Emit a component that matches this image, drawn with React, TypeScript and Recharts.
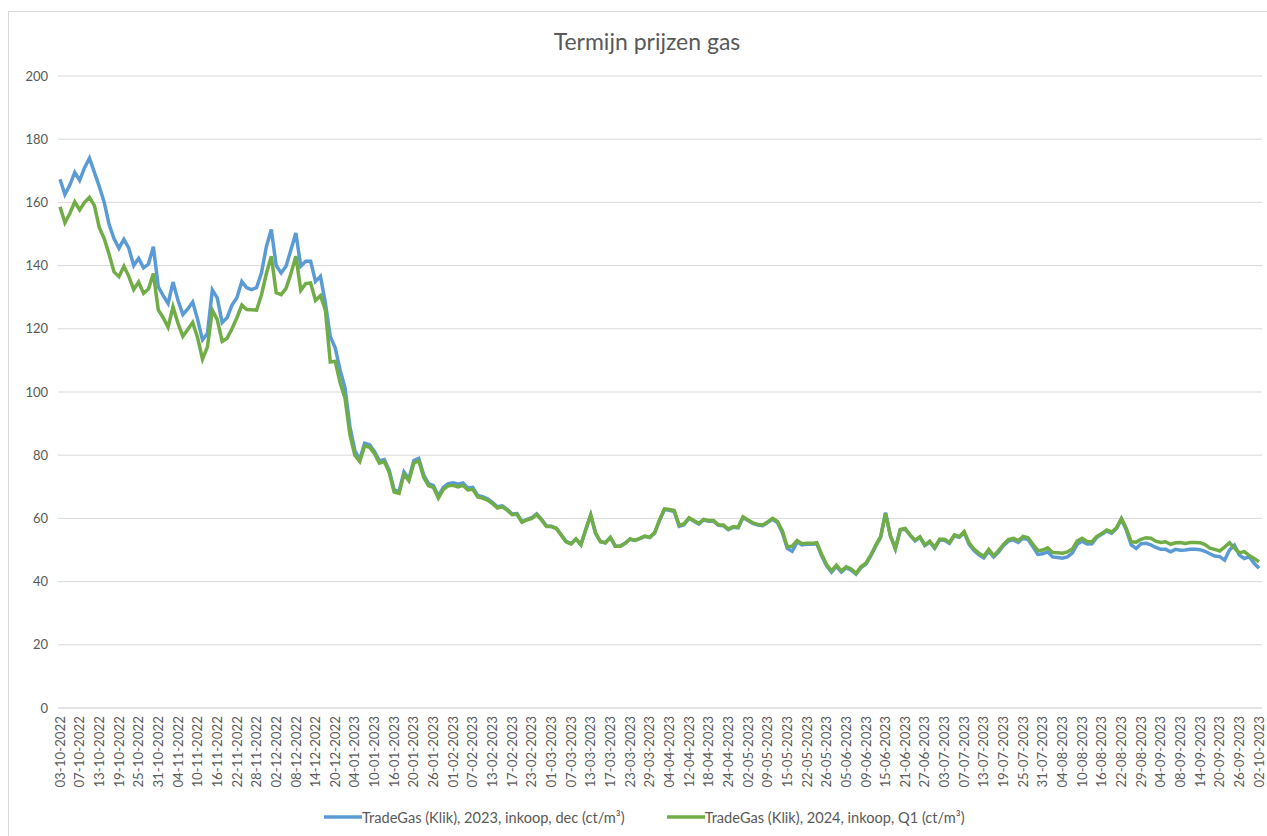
import React from "react";
import { LineChart, Line, XAxis, YAxis, CartesianGrid, Legend } from "recharts";

const FONT = "Lato, 'Open Sans', sans-serif";
const TEXT = "#595959";
const GRID = "#d9d9d9";

// every 4th trading day carries a label on the axis
const dateLabels = [
  "03-10-2022", "07-10-2022", "13-10-2022", "19-10-2022", "25-10-2022", "31-10-2022",
  "04-11-2022", "10-11-2022", "16-11-2022", "22-11-2022", "28-11-2022", "02-12-2022",
  "08-12-2022", "14-12-2022", "20-12-2022", "04-01-2023", "10-01-2023", "16-01-2023",
  "20-01-2023", "26-01-2023", "01-02-2023", "07-02-2023", "13-02-2023", "17-02-2023",
  "23-02-2023", "01-03-2023", "07-03-2023", "13-03-2023", "17-03-2023", "23-03-2023",
  "29-03-2023", "04-04-2023", "12-04-2023", "18-04-2023", "24-04-2023", "02-05-2023",
  "09-05-2023", "15-05-2023", "22-05-2023", "26-05-2023", "05-06-2023", "09-06-2023",
  "15-06-2023", "21-06-2023", "27-06-2023", "03-07-2023", "07-07-2023", "13-07-2023",
  "19-07-2023", "25-07-2023", "31-07-2023", "04-08-2023", "10-08-2023", "16-08-2023",
  "22-08-2023", "29-08-2023", "04-09-2023", "08-09-2023", "14-09-2023", "20-09-2023",
  "26-09-2023", "02-10-2023",
];

// TradeGas (Klik), 2023, inkoop, dec (ct/m³)
const dec2023 = [
  167.3, 162.5, 165.5, 169.5, 167, 171, 174, 169.5, 165, 160,
  153, 148.5, 145.5, 148.3, 145.5, 140, 142.3, 139.3, 140.5, 146,
  133.3, 130.5, 128, 134.8, 129, 124.5, 126.3, 128.5, 123, 116.5,
  118.5, 132.3, 129.8, 122, 123.5, 127.5, 129.8, 135, 133, 132.4,
  133, 137.7, 146, 151.4, 140, 137.7, 139.8, 145, 150.3, 139.8,
  141.4, 141.4, 135, 136.6, 128.2, 117.6, 114, 107, 101.3, 89,
  81.5, 78.6, 83.8, 83.3, 81.2, 78.2, 78.6, 75.2, 69, 68.5,
  74.7, 72.5, 78.3, 79, 73.8, 71, 70.4, 67, 69.8, 71,
  71.3, 70.8, 71.2, 69.6, 69.8, 67.3, 66.9, 66.2, 65.1, 63.7,
  64, 62.9, 61.4, 61.5, 59, 59.7, 60.2, 61.4, 59.7, 57.6,
  57.5, 56.9, 54.8, 52.7, 52, 53.5, 51.7, 56.5, 61.1, 55.3,
  52.6, 52.3, 54, 51.2, 51.2, 52.1, 53.4, 53, 53.6, 54.3,
  53.9, 55.3, 59.3, 62.8, 62.6, 62.2, 57.5, 58, 60, 59.1,
  58.2, 59.5, 59.1, 59.1, 57.8, 57.7, 56.4, 57.2, 57, 60.3,
  59.3, 58.4, 57.9, 57.7, 58.7, 59.7, 58.7, 55.5, 50.5, 49.6,
  52.5, 51.6, 51.8, 51.8, 52, 48.2, 45, 43, 44.8, 43,
  44.3, 43.6, 42.3, 44.4, 45.5, 48.1, 51.2, 54, 61.8, 54.4,
  50.3, 56.4, 56.6, 54.6, 52.9, 54, 51.4, 52.6, 50.5, 53.1,
  53.1, 52.1, 54.5, 54, 55.5, 51.8, 49.8, 48.5, 47.5, 49.6,
  47.8, 49.3, 51.4, 52.8, 53.2, 52.4, 53.8, 53.3, 51, 48.6,
  48.8, 49.4, 47.8, 47.6, 47.4, 47.8, 49, 51.8, 52.8, 51.9,
  52, 54, 55, 56, 55.3, 56.8, 59.7, 56.3, 51.6, 50.5,
  52, 52.1, 51.6, 50.8, 50.2, 50.2, 49.4, 50.2, 49.9, 50,
  50.2, 50.2, 50.1, 49.6, 48.8, 48.1, 47.9, 46.8, 50, 51.5,
  48.4, 47.3, 47.9, 45.8, 44.2,
];

// TradeGas (Klik), 2024, inkoop, Q1 (ct/m³)
const q1_2024 = [
  158.6, 153.6, 156.5, 160.2, 157.6, 160, 161.6, 159, 152, 148.5,
  143.5, 138, 136.5, 139.8, 136.6, 132.4, 134.8, 131.2, 132.6, 137.5,
  126, 123.5, 120.5, 127, 121.8, 117.6, 119.8, 122, 117.2, 110.4,
  114.3, 125.9, 122.9, 116, 117, 120, 123.5, 127.5, 126.1, 126,
  125.9, 130.8, 137.5, 143, 131.4, 130.8, 132.8, 137.5, 143, 132.2,
  134.3, 134.5, 129, 130.5, 126, 109.5, 109.7, 103, 98, 86.5,
  80, 78, 83, 82.5, 80.5, 77.5, 78, 74.5, 68.3, 67.9,
  74, 71.9, 77.5, 78.3, 73, 70.3, 69.8, 66.4, 69.2, 70.3,
  70.5, 70, 70.5, 69, 69.2, 66.8, 66.4, 65.8, 64.7, 63.3,
  63.7, 62.6, 61.2, 61.3, 58.8, 59.5, 60, 61.2, 59.5, 57.4,
  57.4, 56.8, 54.7, 52.6, 51.9, 53.5, 51.6, 56.5, 61.1, 55.3,
  52.6, 52.3, 54, 51.2, 51.2, 52.1, 53.5, 53.1, 53.7, 54.4,
  54, 55.5, 59.5, 63, 62.8, 62.5, 57.8, 58.3, 60.2, 59.3,
  58.4, 59.7, 59.3, 59.3, 58, 57.9, 56.6, 57.4, 57.2, 60.5,
  59.5, 58.6, 58.1, 57.9, 58.9, 60, 59, 56, 51, 51.2,
  53, 52, 52.1, 52.1, 52.3, 48.6, 45.4, 43.4, 45.2, 43.4,
  44.7, 44, 42.6, 44.7, 45.8, 48.4, 51.5, 54.2, 61.6, 54.4,
  50.5, 56.5, 56.8, 54.8, 53.1, 54.2, 51.6, 52.8, 50.8, 53.4,
  53.4, 52.4, 54.8, 54.2, 55.8, 52.3, 50.3, 49, 48, 50.2,
  48.2, 49.8, 51.8, 53.3, 53.7, 53, 54.3, 53.9, 51.8, 49.8,
  50, 50.7, 49.2, 49.1, 49, 49.4, 50.3, 52.8, 53.7, 52.7,
  52.6, 54.3, 55.2, 56.3, 55.7, 57, 60, 56.8, 52.6, 52.5,
  53.4, 53.9, 53.7, 52.8, 52.4, 52.6, 51.8, 52.3, 52.4, 52.1,
  52.4, 52.4, 52.3, 51.7, 50.6, 50.2, 49.7, 50.9, 52.3, 50.6,
  49.1, 49.5, 48.3, 47.3, 46.3,
];

const yTicks = [0, 20, 40, 60, 80, 100, 120, 140, 160, 180, 200];

const LABEL_EVERY = 4;

const data = dec2023.map((v, i) => ({
  date: i % LABEL_EVERY === 0 ? dateLabels[i / LABEL_EVERY] : "",
  dec: v,
  q1: q1_2024[i],
}));

function DateTick({ x, y, payload }: any) {
  if (!payload || !payload.value) return null;
  return (
    <text
      x={x}
      y={y}
      dy="0.35em"
      transform={`rotate(-90, ${x}, ${y})`}
      textAnchor="end"
      fill={TEXT}
      fontSize={13.3}
      fontFamily={FONT}
    >
      {payload.value}
    </text>
  );
}

function LegendBox({ payload }: any) {
  return (
    <div
      style={{
        height: 24,
        display: "flex",
        alignItems: "center",
        paddingLeft: 324,
        fontFamily: FONT,
        fontSize: 14.6,
        color: TEXT,
      }}
    >
      {(payload || []).map((p: any, i: number) => (
        <div key={p.value} style={{ display: "flex", alignItems: "center", marginLeft: i === 0 ? 0 : 42 }}>
          <svg width={38} height={6} style={{ display: "block" }}>
            <line x1={0} y1={3} x2={38} y2={3} stroke={p.color} strokeWidth={3.5} />
          </svg>
          <span style={{ whiteSpace: "nowrap" }}>{p.value}</span>
        </div>
      ))}
    </div>
  );
}

export default function App() {
  return (
    <div
      style={{
        position: "absolute",
        left: 0,
        top: 0,
        width: 1267,
        height: 836,
        overflow: "hidden",
        background: "#fff",
        fontFamily: FONT,
      }}
    >
      <div
        style={{
          position: "absolute",
          left: 8,
          top: 11,
          width: 1290,
          height: 850,
          border: `1px solid ${GRID}`,
        }}
      />
      <div
        style={{
          position: "absolute",
          left: 0,
          top: 27,
          width: 1294,
          textAlign: "center",
          fontSize: 23,
          color: TEXT,
        }}
      >
        Termijn prijzen gas
      </div>
      <div style={{ position: "absolute", left: 0, top: 0 }}>
        <LineChart width={1267} height={836} data={data} margin={{ top: 76, right: 5, bottom: 7, left: 0 }}>
          <CartesianGrid vertical={false} stroke={GRID} />
          <XAxis
            dataKey="date"
            interval={0}
            tick={<DateTick />}
            tickLine={false}
            axisLine={{ stroke: GRID }}
            height={97}
            padding={{ left: 2, right: 3 }}
          />
          <YAxis
            domain={[0, 200]}
            ticks={yTicks}
            width={58}
            axisLine={false}
            tickLine={false}
            tickMargin={4}
            tick={{ fill: TEXT, fontSize: 13, fontFamily: FONT }}
          />
          <Legend verticalAlign="bottom" content={<LegendBox />} />
          <Line
            name="TradeGas (Klik), 2023, inkoop, dec (ct/m³)"
            dataKey="dec"
            type="linear"
            stroke="#5b9bd5"
            strokeWidth={3.5}
            dot={false}
            isAnimationActive={false}
          />
          <Line
            name="TradeGas (Klik), 2024, inkoop, Q1 (ct/m³)"
            dataKey="q1"
            type="linear"
            stroke="#70ad47"
            strokeWidth={3.5}
            dot={false}
            isAnimationActive={false}
          />
        </LineChart>
      </div>
    </div>
  );
}
